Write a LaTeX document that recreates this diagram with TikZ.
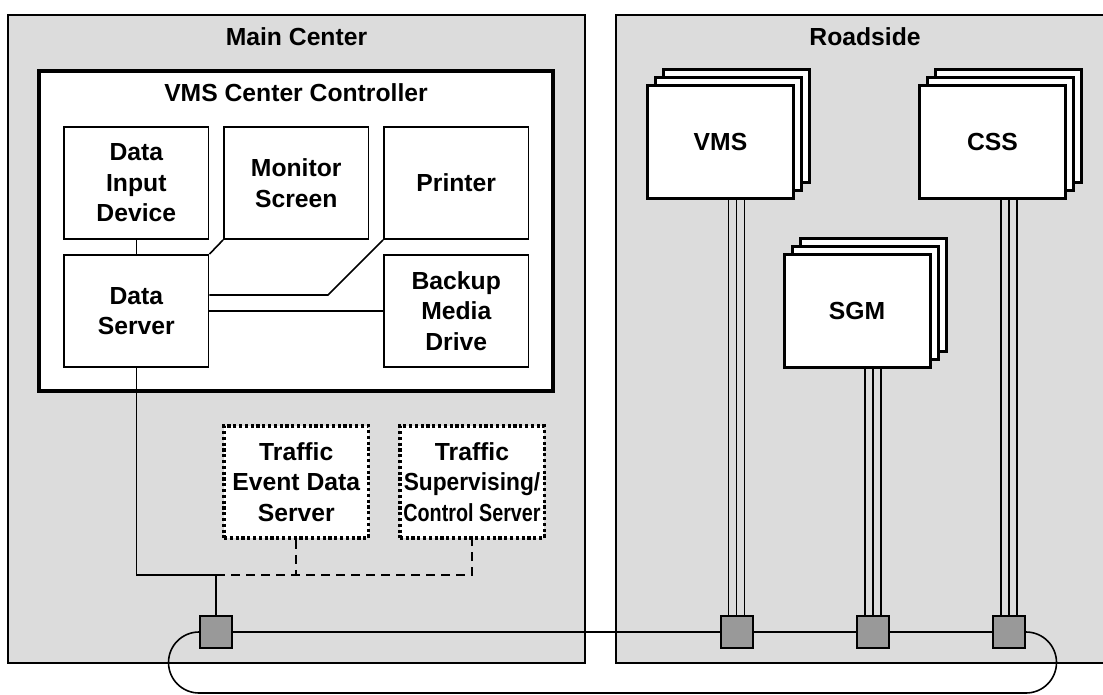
\documentclass[tikz,border=0pt]{standalone}
\usepackage{fontspec}
\usepackage{graphicx}
\setmainfont{Liberation Sans}
\definecolor{panelgray}{HTML}{DCDCDC}
\definecolor{switchgray}{HTML}{999999}
\tikzset{
  lbl/.style={font=\fontsize{24.7}{30.5}\selectfont\bfseries, align=center},
  panel/.style={fill=panelgray, draw=black, line width=1.8pt},
  unitbox/.style={lbl, draw=black, fill=white, line width=1.8pt, inner sep=0pt,
                  minimum width=144.5pt, minimum height=112pt},
  optbox/.style={lbl, draw=black, fill=white, line width=3.5pt, inner sep=0pt,
                 dash pattern=on 3.2pt off 2.6pt,
                 minimum width=144.5pt, minimum height=112pt},
  devbox/.style={lbl, draw=black, fill=white, line width=3pt, inner sep=0pt,
                 minimum width=146pt, minimum height=113pt},
  layer/.style={draw=black, fill=white, line width=3pt},
  switch/.style={draw=black, fill=switchgray, line width=2pt, inner sep=0pt,
                 minimum width=32pt, minimum height=32pt},
  link/.style={line width=1.6pt},
  optlink/.style={line width=1.6pt, dash pattern=on 9pt off 6pt},
  wire/.style={line width=1.8pt},
}
\begin{document}
\begin{tikzpicture}[x=1pt, y=-1pt]
\path[use as bounding box] (0,0) rectangle (1103,695);
\begin{scope}
\clip (0,0) rectangle (1103,695);

% the two sites
\draw[panel] (8,15) rectangle (585,663);
\node[lbl] (maintitle) at (296.5,37) {Main Center};
\fill[panelgray] (616,15) rectangle (1120,663);
\draw[line width=1.8pt] (1120,15) -- (616,15) -- (616,663) -- (1120,663);
\node[lbl] (roadtitle) at (865,37) {Roadside};

% center controller and its units
\draw[fill=white, line width=4pt] (39,71) rectangle (553,391);
\node[lbl] (ctltitle) at (296,93) {VMS Center Controller};

\node[unitbox] (dev) at (136.3,183) {Data\\Input\\Device};
\node[unitbox] (mon) at (296.25,183) {Monitor\\Screen};
\node[unitbox] (prt) at (456.25,183) {Printer};
\node[unitbox] (srv) at (136.3,311) {Data\\Server};
\node[unitbox] (bak) at (456.25,311) {Backup\\Media\\Drive};

\draw[link] (dev.south) -- (srv.north);
\draw[link] (mon.south west) -- (srv.north east);
\coordinate (pk) at (328,295);
\draw[link] (prt.south west) -- (pk) -- (pk -| srv.east);
\draw[link] (srv.east) -- (bak.west);

% optional servers
\node[optbox] (ted) at (296.25,482) {Traffic\\Event Data\\Server};
\node[optbox] (tsc) at (472,482) {Traffic\\\scalebox{0.92}[1]{Supervising/}\\\scalebox{0.8}[1]{Control Server}};

% roadside devices (stacked)
\foreach \cx/\cy in {720.5/142, 992.5/142, 857/311} {
  \draw[layer] (\cx-73+16,\cy-56.5-16) rectangle (\cx+73+16,\cy+56.5-16);
  \draw[layer] (\cx-73+8,\cy-56.5-8) rectangle (\cx+73+8,\cy+56.5-8);
}
\node[devbox] (vms) at (720.5,142) {VMS};
\node[devbox] (css) at (992.5,142) {CSS};
\node[devbox] (sgm) at (857,311) {SGM};

% network switches
\node[switch] (sw0) at (216,632) {};
\node[switch] (swv) at (736.5,632) {};
\node[switch] (swg) at (873,632) {};
\node[switch] (swc) at (1009,632) {};

% center uplink
\coordinate (jn) at (136.3,575);
\coordinate (tap) at (216,575);
\draw[link] (srv.south) -- (jn) -- (tap) -- (sw0.north);
\draw[optlink] (tap) -- (tap -| tsc.south) -- (tsc.south);
\draw[optlink] (ted.south) -- (ted.south |- tap);

% device drop cables
\foreach \d/\s in {vms/swv, sgm/swg, css/swc} {
  \foreach \dx in {-8,0,8} {
    \draw[wire] ([xshift=\dx pt]\s.north) -- ([xshift=\dx pt]\s.north |- \d.south);
  }
}

% ring
\draw[link] (sw0.east) -- (swv.west);
\draw[link] (swv.east) -- (swg.west);
\draw[link] (swg.east) -- (swc.west);
\draw[link] (sw0.west) arc[start angle=90, end angle=270, radius=30.5pt]
  -- ([yshift=-61pt]swc.east) arc[start angle=-90, end angle=90, radius=30.5pt];
\end{scope}
\end{tikzpicture}
\end{document}
